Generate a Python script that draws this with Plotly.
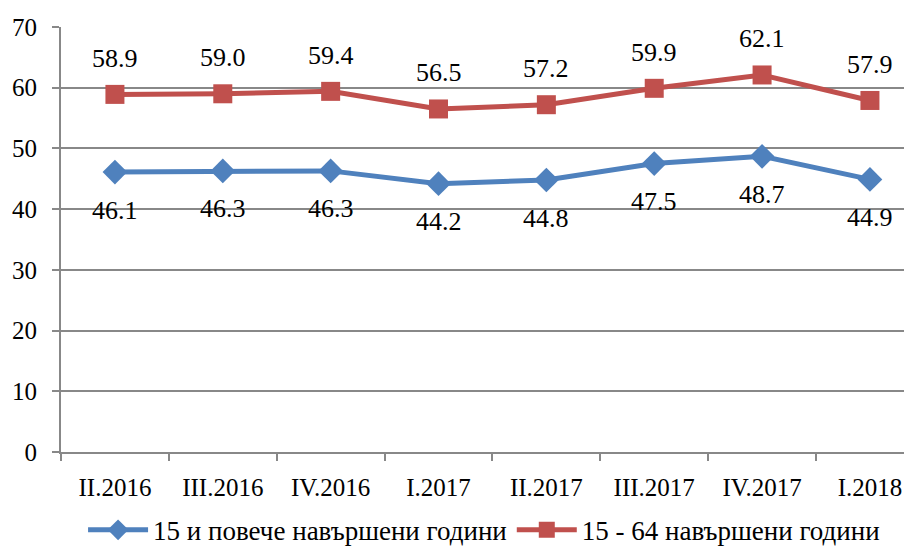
import plotly.graph_objects as go

categories = ["II.2016", "III.2016", "IV.2016", "I.2017", "II.2017", "III.2017", "IV.2017", "I.2018"]
series_15plus = [46.1, 46.3, 46.3, 44.2, 44.8, 47.5, 48.7, 44.9]
series_15_64 = [58.9, 59.0, 59.4, 56.5, 57.2, 59.9, 62.1, 57.9]
name_15plus = "15 и повече навършени години"
name_15_64 = "15 - 64 навършени години"

font_family = "Times New Roman, Liberation Serif, serif"

fig = go.Figure()
fig.add_trace(go.Scatter(
    x=categories, y=series_15plus, name=name_15plus,
    mode="lines+markers",
    line=dict(color="#4F81BD", width=5),
    marker=dict(symbol="diamond", size=19, color="#4F81BD"),
))
fig.add_trace(go.Scatter(
    x=categories, y=series_15_64, name=name_15_64,
    mode="lines+markers",
    line=dict(color="#C0504D", width=5),
    marker=dict(symbol="square", size=19, color="#C0504D"),
))

annotations = []
for c, v in zip(categories, series_15plus):
    annotations.append(dict(x=c, y=v, text=f"{v:.1f}", showarrow=False,
                            yanchor="middle", yshift=-38,
                            font=dict(family=font_family, size=26, color="#000000")))
for c, v in zip(categories, series_15_64):
    annotations.append(dict(x=c, y=v, text=f"{v:.1f}", showarrow=False,
                            yanchor="middle", yshift=36,
                            font=dict(family=font_family, size=26, color="#000000")))

fig.update_layout(
    width=912, height=548,
    margin=dict(l=53, r=8, t=19, b=104),
    paper_bgcolor="white", plot_bgcolor="white",
    font=dict(family=font_family, size=25, color="#000000"),
    showlegend=True,
    annotations=annotations,
    legend=dict(orientation="h", xref="container", yref="container",
                x=0.522, xanchor="center", y=0.047, yanchor="middle",
                font=dict(family=font_family, size=27, color="#000000"),
                itemwidth=60, tracegroupgap=0),
)
fig.update_xaxes(
    type="category", range=[-0.5, 7.39], automargin=False,
    showline=True, linecolor="#888888", linewidth=2,
    ticks="outside", tickson="boundaries", ticklen=7, tickcolor="#888888", tickwidth=2,
    ticklabelstandoff=12,
    showgrid=False, tickfont=dict(family=font_family, size=25, color="#000000"),
)
fig.update_yaxes(
    range=[0, 70], dtick=10, automargin=False,
    showline=True, linecolor="#888888", linewidth=2,
    ticks="outside", ticklen=7, tickcolor="#888888", tickwidth=2,
    ticklabelstandoff=10,
    showgrid=True, gridcolor="#888888", gridwidth=1.5,
    zeroline=False, tickfont=dict(family=font_family, size=25, color="#000000"),
)

fig.write_html("out.html")
